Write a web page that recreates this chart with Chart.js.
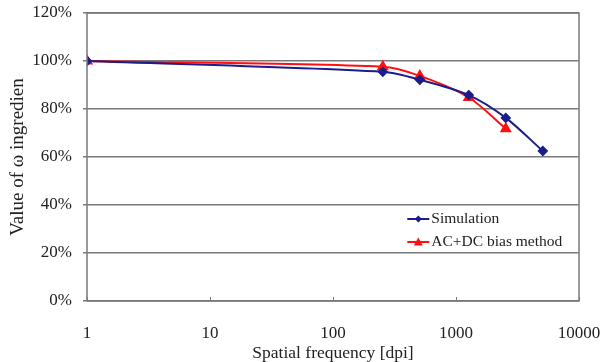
<!DOCTYPE html>
<html>
<head>
<meta charset="utf-8">
<script src="https://cdn.jsdelivr.net/npm/chart.js@4"></script>
<style>
html,body{margin:0;padding:0;background:#fff;}
#wrap{width:604px;height:362px;position:relative;}
</style>
</head>
<body>
<div id="wrap"><canvas id="c" width="604" height="362"></canvas></div>
<script>
const frequencies = [1, 254, 508, 1270, 2540, 5080];
const simulationValues = [100, 95.5, 92.2, 85.8, 76.3, 62.5];
const acdcFrequencies = [1, 254, 508, 1270, 2540];
const acdcValues = [100, 97.6, 93.8, 84.8, 71.8];
const seriesNames = ['Simulation', 'AC+DC bias method'];
const xTickValues = [1, 10, 100, 1000, 10000];
const yTickValues = [0, 20, 40, 60, 80, 100, 120];
const xTitle = 'Spatial frequency [dpi]';
const yTitle = 'Value of \u03c9 ingredien';

const FONT = "'Liberation Serif', 'Times New Roman', serif";
const TXT = '#222';
const GRID = '#7a7a7a';

const frameAndTicks = {
  id: 'frameAndTicks',
  afterDraw(chart) {
    const {ctx, chartArea: a, scales} = chart;
    ctx.save();
    ctx.strokeStyle = GRID;
    ctx.lineWidth = 1.5;
    ctx.strokeRect(a.left, a.top, a.right - a.left, a.bottom - a.top);
    ctx.lineWidth = 1;
    xTickValues.forEach(v => {
      const px = Math.round(scales.x.getPixelForValue(v)) + 0.5;
      ctx.beginPath();
      ctx.moveTo(px, a.bottom);
      ctx.lineTo(px, a.bottom - 4);
      ctx.stroke();
    });
    ctx.restore();
  }
};

const customLegend = {
  id: 'customLegend',
  afterDraw(chart) {
    const {ctx, chartArea: a} = chart;
    ctx.save();
    const x0 = a.left + (a.right - a.left) * 0.651;
    const ys = [219, 242];
    chart.data.datasets.forEach((ds, i) => {
      const y = ys[i];
      ctx.strokeStyle = ds.borderColor;
      ctx.lineWidth = ds.borderWidth;
      ctx.beginPath();
      ctx.moveTo(x0, y);
      ctx.lineTo(x0 + 22, y);
      ctx.stroke();
      ctx.fillStyle = ds.pointBackgroundColor;
      ctx.beginPath();
      if (ds.pointStyle === 'triangle') {
        const r = 4.5;
        ctx.moveTo(x0 + 11, y - r);
        ctx.lineTo(x0 + 11 + r, y + r * 0.75);
        ctx.lineTo(x0 + 11 - r, y + r * 0.75);
      } else {
        const r = 3.5;
        ctx.moveTo(x0 + 11, y - r);
        ctx.lineTo(x0 + 11 + r, y);
        ctx.lineTo(x0 + 11, y + r);
        ctx.lineTo(x0 + 11 - r, y);
      }
      ctx.closePath();
      ctx.fill();
      ctx.fillStyle = TXT;
      ctx.font = "15.5px " + FONT;
      ctx.textBaseline = 'middle';
      ctx.textAlign = 'left';
      ctx.fillText(ds.label, x0 + 24, y);
    });
    ctx.restore();
  }
};

new Chart(document.getElementById('c'), {
  type: 'line',
  data: {
    datasets: [
      {
        label: seriesNames[0],
        data: frequencies.map((f, i) => ({x: f, y: simulationValues[i]})),
        borderColor: '#1c1c8a',
        backgroundColor: '#1c1c8a',
        pointBackgroundColor: '#1c1c8a',
        pointBorderColor: '#1c1c8a',
        pointStyle: 'rectRot',
        pointRadius: 4,
        borderWidth: 2,
        tension: 0.3,
        fill: false
      },
      {
        label: seriesNames[1],
        data: acdcFrequencies.map((f, i) => ({x: f, y: acdcValues[i]})),
        borderColor: '#ff1010',
        backgroundColor: '#ff1010',
        pointBackgroundColor: '#ff1010',
        pointBorderColor: '#ff1010',
        pointStyle: 'triangle',
        pointRadius: 5,
        borderWidth: 2,
        tension: 0.3,
        fill: false
      }
    ]
  },
  options: {
    responsive: false,
    animation: false,
    layout: {padding: {top: 13, right: 25, left: 0, bottom: 0}},
    plugins: {legend: {display: false}, tooltip: {enabled: false}},
    scales: {
      x: {
        type: 'logarithmic',
        min: 1,
        max: 10000,
        afterBuildTicks: s => { s.ticks = xTickValues.map(v => ({value: v})); },
        afterFit: s => { s.height = 61; s.paddingLeft = 0; s.paddingRight = 0; },
        ticks: {
          autoSkip: false,
          maxRotation: 0,
          padding: 22,
          color: TXT,
          font: {family: FONT, size: 17},
          callback: v => String(v)
        },
        grid: {display: false, drawTicks: false},
        border: {display: false},
        title: {
          display: true,
          text: xTitle,
          color: TXT,
          font: {family: FONT, size: 17.5, lineHeight: 1.0},
          padding: {top: 0, bottom: 0}
        }
      },
      y: {
        min: 0,
        max: 120,
        afterBuildTicks: s => { s.ticks = yTickValues.map(v => ({value: v})); },
        afterFit: s => { s.width = 87; s.paddingTop = 0; s.paddingBottom = 0; },
        ticks: {
          padding: 11,
          color: TXT,
          font: {family: FONT, size: 17},
          callback: v => v + '%'
        },
        grid: {color: GRID, lineWidth: 1.5, tickLength: 4, tickColor: GRID},
        border: {display: false},
        title: {
          display: true,
          text: yTitle,
          color: TXT,
          font: {family: FONT, size: 19},
          padding: {top: 7, bottom: 0}
        }
      }
    }
  },
  plugins: [frameAndTicks, customLegend]
});
</script>
</body>
</html>
